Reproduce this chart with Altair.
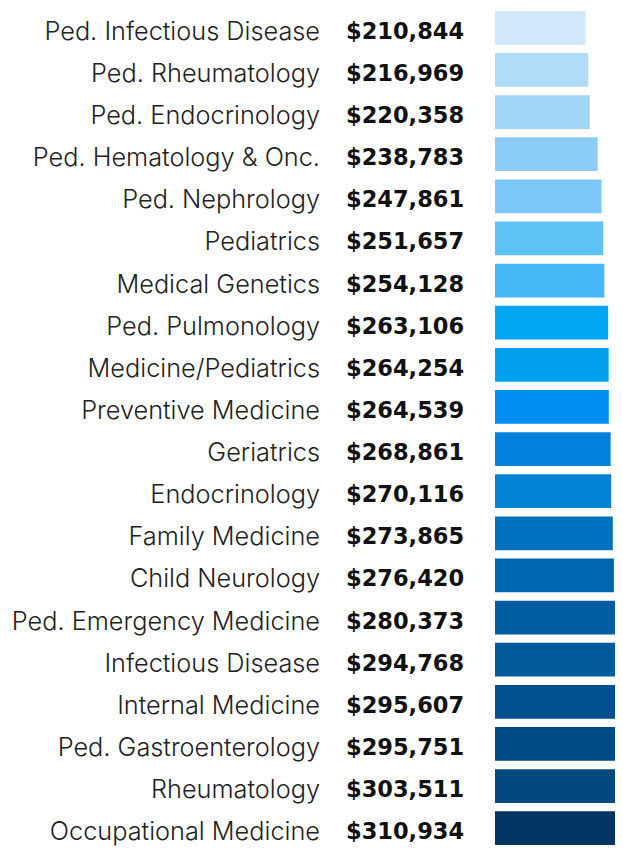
import altair as alt
import pandas as pd

specialties = [
    "Ped. Infectious Disease", "Ped. Rheumatology", "Ped. Endocrinology",
    "Ped. Hematology & Onc.", "Ped. Nephrology", "Pediatrics", "Medical Genetics",
    "Ped. Pulmonology", "Medicine/Pediatrics", "Preventive Medicine", "Geriatrics",
    "Endocrinology", "Family Medicine", "Child Neurology", "Ped. Emergency Medicine",
    "Infectious Disease", "Internal Medicine", "Ped. Gastroenterology",
    "Rheumatology", "Occupational Medicine",
]
salaries = [
    210844, 216969, 220358, 238783, 247861, 251657, 254128, 263106, 264254,
    264539, 268861, 270116, 273865, 276420, 280373, 294768, 295607, 295751,
    303511, 310934,
]

palette = [
    "#d0e9fb", "#b1dcf9", "#9fd5f9", "#8bcdf7", "#7cc7f6", "#5ec2f7", "#46b7f6",
    "#00a8f4", "#00a2ef", "#008ff0", "#0082dc", "#0083d5", "#0071bd", "#0066b0",
    "#005da3", "#005a9b", "#00508e", "#004a85", "#02497f", "#003462",
]

df = pd.DataFrame({"specialty": specialties, "salary": salaries})

y_enc = alt.Y(
    "specialty:N",
    sort=specialties,
    axis=None,
    scale=alt.Scale(paddingInner=0.2, paddingOuter=0.071),
)

base = alt.Chart(df)

bars = base.mark_bar(clip=True).encode(
    y=y_enc,
    x=alt.X("salary:Q", axis=None, scale=alt.Scale(domain=[0, 279000], nice=False)),
    color=alt.Color("specialty:N", scale=alt.Scale(domain=specialties, range=palette), legend=None),
)

labels = base.mark_text(
    align="right", baseline="middle", dy=4, font="Inter", fontWeight=300,
    fontSize=25.3, color="#222222",
).encode(y=y_enc, x=alt.value(-175), text="specialty:N")

values = base.mark_text(
    align="left", baseline="middle", dy=4, font="DejaVu Sans", fontWeight="bold",
    fontSize=22.5, color="#111111",
).encode(y=y_enc, x=alt.value(-149), text=alt.Text("salary:Q", format="$,.0f"))

chart = (
    alt.layer(bars, labels, values)
    .properties(
        width=120,
        height=840,
        autosize=alt.AutoSizeParams(type="none"),
        padding={"left": 487, "top": 0, "right": 0, "bottom": 0},
    )
    .configure_view(stroke=None)
)

chart.save("out.html", embed_options={"renderer": "svg", "actions": False})
